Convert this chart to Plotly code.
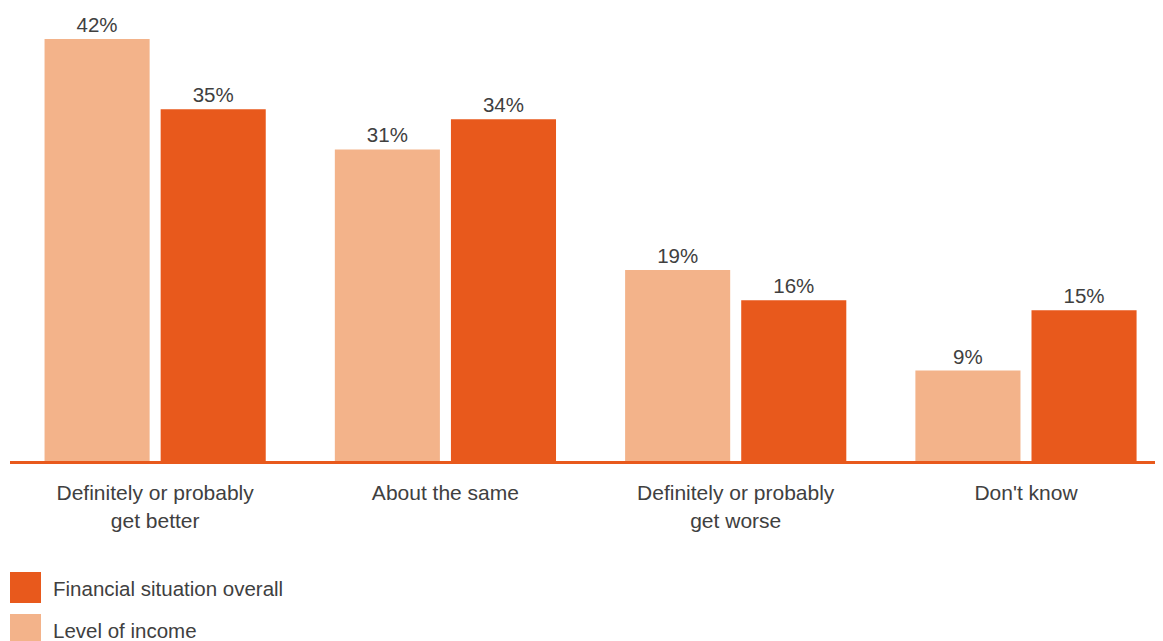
import plotly.graph_objects as go

categories = ["Definitely or probably<br>get better", "About the same",
              "Definitely or probably<br>get worse", "Don't know"]
level_of_income = [42, 31, 19, 9]
financial_overall = [35, 34, 16, 15]
series_names = ["Level of income", "Financial situation overall"]

LIGHT = "#F3B38A"
DARK = "#E8591C"
TEXT = "#404040"
FONT = "Liberation Sans, Arial, sans-serif"

# page is rendered with an 8px body margin; figure coords = page coords - 8
W, H = 1163, 641
ML, MR, MT, MB = 2, 8, 0, 188
PW, PH = W - ML - MR, H - MT - MB

fig = go.Figure()
fig.add_trace(go.Bar(x=categories, y=level_of_income, name=series_names[0],
                     marker=dict(color=LIGHT, line=dict(width=0)),
                     text=[f"{v}%" for v in level_of_income], textposition="outside",
                     textfont=dict(size=20.5, color=TEXT, family=FONT),
                     cliponaxis=False, showlegend=False))
fig.add_trace(go.Bar(x=categories, y=financial_overall, name=series_names[1],
                     marker=dict(color=DARK, line=dict(width=0)),
                     text=[f"{v}%" for v in financial_overall], textposition="outside",
                     textfont=dict(size=20.5, color=TEXT, family=FONT),
                     cliponaxis=False, showlegend=False))

fig.update_layout(
    width=W, height=H,
    margin=dict(l=ML, r=MR, t=MT, b=MB, autoexpand=False),
    paper_bgcolor="white", plot_bgcolor="white",
    barmode="group", bargap=0.2, bargroupgap=0.095,
    font=dict(family=FONT, size=21, color=TEXT),
    xaxis=dict(range=[-0.5, 3.472], showgrid=False, zeroline=False,
               showline=True, linecolor=DARK, linewidth=3,
               ticks="", ticklabelstandoff=11,
               tickfont=dict(size=21, color=TEXT, family=FONT)),
    yaxis=dict(range=[0, 45.08], visible=False, showgrid=False, zeroline=False),
)

# custom legend (large swatches) below the chart, in figure pixels
legend_items = [(series_names[1], DARK, 564), (series_names[0], LIGHT, 606)]
for name, col, top in legend_items:
    def py(p):
        return (H - MB - p) / PH
    fig.add_shape(type="rect", xref="paper", yref="paper",
                  x0=(2 - ML) / PW, x1=(33 - ML) / PW,
                  y0=py(top + 31), y1=py(top),
                  fillcolor=col, line=dict(width=0), layer="above")
    fig.add_annotation(x=(43 - ML) / PW, y=py(top + 16), xref="paper", yref="paper",
                       text=name, showarrow=False, xanchor="left", yanchor="middle",
                       font=dict(size=20.5, color=TEXT, family=FONT))

fig.write_html("out.html")
